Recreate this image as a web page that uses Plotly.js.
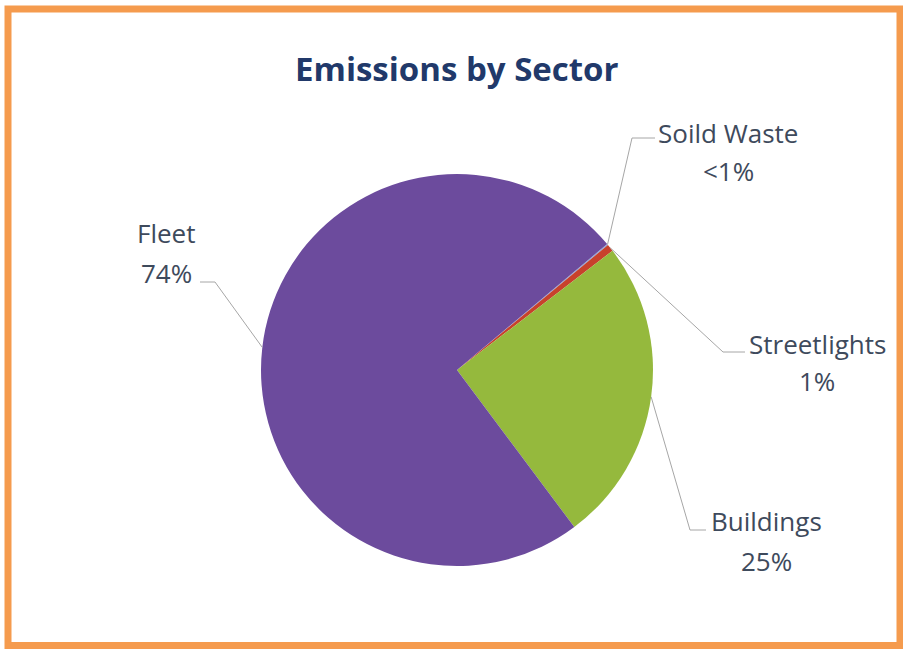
<!DOCTYPE html>
<html><head><meta charset="utf-8">
<script src="https://cdn.plot.ly/plotly-3.0.1.min.js"></script>
<style>html,body{margin:0;padding:0;background:#fff;}#chart{width:903px;height:649px;}</style>
</head><body><div id="chart"></div>
<script>
// ---- data ----
const sectors = ["Soild Waste", "Streetlights", "Buildings", "Fleet"];
const shares = [0.1, 0.6, 25.2, 74.1];
const shareLabels = ["&lt;1%", "1%", "25%", "74%"];
const sliceColors = ["#8FAADC", "#C8412C", "#95B93D", "#6C4B9D"];
const chartTitle = "Emissions by Sector";

// ---- layout geometry (pixels) ----
const W = 903, H = 649, cx = 457, cy = 370, R = 196, startAngle = 50;
const px = x => x / W, py = y => 1 - y / H;

const total = shares.reduce((a, b) => a + b, 0);
let acc = 0; const mids = [];
shares.forEach(v => { mids.push(startAngle + (acc + v / 2) / total * 360); acc += v; });
function edge(i) { const a = mids[i] * Math.PI / 180; return [cx + R * Math.sin(a), cy - R * Math.cos(a)]; }

// label placement: elbow and end of leader, label center x, baselines
const labelPlace = [
  {elbow: [632, 138], end: [655, 138], x: 728, b1: 142, b2: 180},
  {elbow: [723, 352], end: [745, 352], x: 817, b1: 353, b2: 390},
  {elbow: [690, 530], end: [706, 530], x: 766, b1: 530, b2: 570},
  {elbow: [215, 282], end: [200, 282], x: 166, b1: 242, b2: 282}
];

const labelColor = "#3E4A5C";
const labelFont = {family: "Open Sans, sans-serif", size: 26, color: labelColor};

const shapes = [];
const annotations = [];
labelPlace.forEach((p, i) => {
  const e = edge(i);
  shapes.push({
    type: "path", xref: "paper", yref: "paper",
    path: `M ${px(e[0])} ${py(e[1])} L ${px(p.elbow[0])} ${py(p.elbow[1])} L ${px(p.end[0])} ${py(p.end[1])}`,
    line: {color: "#A6A6A6", width: 1}
  });
  annotations.push({xref: "paper", yref: "paper", x: px(p.x), y: py(p.b1 - 9), xanchor: "center", yanchor: "middle",
    text: sectors[i], showarrow: false, font: labelFont});
  annotations.push({xref: "paper", yref: "paper", x: px(p.x), y: py(p.b2 - 9), xanchor: "center", yanchor: "middle",
    text: shareLabels[i], showarrow: false, font: labelFont});
});
annotations.push({xref: "paper", yref: "paper", x: px(457), y: py(68), xanchor: "center", yanchor: "middle",
  text: "<b>" + chartTitle + "</b>", showarrow: false,
  font: {family: "Open Sans, sans-serif", size: 33, color: "#21396A"}});

// orange frame
shapes.push({type: "rect", xref: "paper", yref: "paper",
  x0: px(8), x1: px(900), y0: py(9), y1: py(645.5),
  line: {color: "#F59B4E", width: 7}, fillcolor: "rgba(0,0,0,0)"});

const trace = {
  type: "pie",
  labels: sectors,
  values: shares,
  sort: false,
  direction: "clockwise",
  rotation: startAngle,
  marker: {colors: sliceColors, line: {width: 0}},
  textinfo: "none",
  hoverinfo: "label+percent",
  showlegend: false,
  domain: {x: [px(cx - R), px(cx + R)], y: [py(cy + R), py(cy - R)]}
};

Plotly.newPlot("chart", [trace], {
  width: W, height: H,
  margin: {l: 0, r: 0, t: 0, b: 0},
  paper_bgcolor: "#ffffff",
  showlegend: false,
  shapes: shapes,
  annotations: annotations
}, {displayModeBar: false, staticPlot: true});
</script>
</body></html>
